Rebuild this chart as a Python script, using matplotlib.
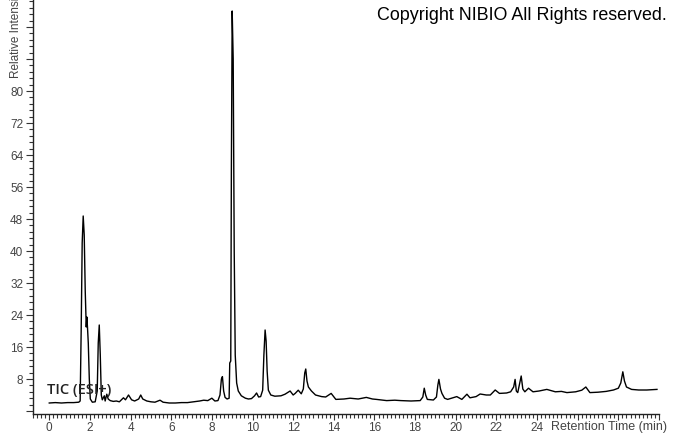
import matplotlib
matplotlib.use("Agg")
import matplotlib.pyplot as plt
from matplotlib.ticker import MultipleLocator, FuncFormatter

# Retention time (min) and relative intensity
time_min = [
    0.0, 0.3, 0.6, 0.9, 1.2, 1.45, 1.52, 1.57, 1.62, 1.67, 1.72, 1.77, 1.82, 1.85,
    1.88, 1.92, 1.97, 2.02, 2.12, 2.26, 2.36, 2.41, 2.46, 2.51, 2.56, 2.61, 2.71,
    2.75, 2.83, 2.9, 3.0, 3.15, 3.3, 3.45, 3.55, 3.65, 3.75, 3.9, 4.05, 4.2, 4.4,
    4.5, 4.6, 4.8, 5.0, 5.2, 5.45, 5.6, 5.9, 6.2, 6.5, 6.8, 7.1, 7.4, 7.6, 7.8,
    8.0, 8.15, 8.3, 8.4, 8.47, 8.52, 8.58, 8.65, 8.75, 8.85, 8.88, 8.93, 8.96,
    9.0, 9.05, 9.1, 9.15, 9.22, 9.3, 9.45, 9.65, 9.8, 9.95, 10.1, 10.2, 10.3,
    10.4, 10.5, 10.56, 10.62, 10.67, 10.72, 10.78, 10.9, 11.1, 11.4, 11.6, 11.85,
    12.0, 12.1, 12.25, 12.4, 12.5, 12.57, 12.62, 12.68, 12.75, 12.9, 13.1, 13.4,
    13.6, 13.87, 14.1, 14.5, 14.8, 15.2, 15.6, 15.9, 16.1, 16.6, 17.0, 17.3,
    17.8, 18.25, 18.38, 18.45, 18.52, 18.6, 18.9, 19.05, 19.12, 19.17, 19.25,
    19.32, 19.45, 19.6, 20.05, 20.3, 20.55, 20.7, 21.0, 21.2, 21.5, 21.7, 21.94,
    22.15, 22.5, 22.7, 22.85, 22.92, 22.98, 23.05, 23.15, 23.22, 23.3, 23.4,
    23.58, 23.8, 24.1, 24.48, 24.9, 25.2, 25.47, 25.9, 26.2, 26.4, 26.6, 27.0,
    27.4, 27.76, 28.0, 28.12, 28.22, 28.3, 28.4, 28.65, 29.0, 29.4, 29.9,
]
intensity = [
    2.0, 2.1, 2.0, 2.1, 2.1, 2.2, 2.5, 20, 42, 48.75, 44, 30, 21, 23.5,
    21, 17, 8, 3, 2.2, 2.3, 5, 17, 21.5, 14, 4, 2.8, 3.8,
    2.5, 4.2, 3.0, 2.6, 2.4, 2.5, 2.3, 2.8, 3.3, 2.8, 4.0, 2.8, 2.5, 3.0,
    4.0, 3.0, 2.5, 2.3, 2.2, 2.7, 2.2, 2.0, 2.0, 2.1, 2.1, 2.3, 2.5, 2.7, 2.6,
    3.2, 2.5, 2.6, 4.0, 8.0, 8.6, 5.0, 3.4, 3.0, 3.2, 12, 12.5, 60,
    100, 88, 40, 14, 7, 5, 3.8, 3.2, 3.0, 3.1, 3.8, 4.5, 3.5,
    3.6, 5.2, 14, 20.25, 17.5, 10, 5.2, 4.0, 3.7, 3.8, 4.2, 5.0,
    4.0, 4.4, 5.2, 4.3, 5.5, 9.5, 10.5, 7.5, 6.0, 5.0, 4.0, 3.6,
    3.5, 4.4, 2.9, 3.0, 3.2, 3.0, 3.4, 3.0, 2.9, 2.6, 2.7, 2.6,
    2.5, 2.6, 3.5, 5.7, 4.0, 2.9, 2.75, 3.5, 6.5, 7.9, 5.5,
    4.4, 3.2, 2.9, 3.6, 2.9, 4.2, 3.3, 3.6, 4.25, 4.0, 4.0, 5.25,
    4.4, 4.5, 4.8, 6.0, 7.9, 5.0, 4.6, 7.0, 8.75, 5.5, 4.8,
    5.7, 4.8, 5.0, 5.4, 4.8, 4.9, 4.6, 4.8, 5.2, 6.0, 4.6, 4.7,
    4.9, 5.25, 5.7, 7.0, 9.8, 7.5, 6.0, 5.4, 5.25, 5.25, 5.4,
]

x_major = list(range(0, 25, 2))
y_labelled = [8, 16, 24, 32, 40, 48, 56, 64, 72, 80]

W, H = 673, 433
fig = plt.figure(figsize=(W / 100, H / 100), dpi=100)
fig.patch.set_facecolor("white")

left_px, right_px, top_px, bottom_px = 33, 659, 0, 414
ax = fig.add_axes([left_px / W, (H - bottom_px) / H,
                   (right_px - left_px) / W, (bottom_px - top_px) / H])

ax.plot(time_min, intensity, color="black", lw=1.0)

ax.set_xlim(-0.8, 30.0)
ax.set_ylim(-0.75, 102.75)

for s in ("top", "right"):
    ax.spines[s].set_visible(False)
for s in ("left", "bottom"):
    ax.spines[s].set_color("#222222")
    ax.spines[s].set_linewidth(1.0)

ax.xaxis.set_major_locator(MultipleLocator(2))
ax.xaxis.set_minor_locator(MultipleLocator(0.2))
ax.yaxis.set_major_locator(MultipleLocator(8))
ax.yaxis.set_minor_locator(MultipleLocator(1.6))

ax.xaxis.set_major_formatter(FuncFormatter(
    lambda v, p: f"{int(round(v))}" if int(round(v)) in x_major and abs(v - round(v)) < 1e-6 else ""))
ax.yaxis.set_major_formatter(FuncFormatter(
    lambda v, p: f"{int(round(v))}" if int(round(v)) in y_labelled else ""))

ax.tick_params(axis="both", which="major", length=5, width=0.8, color="#333333",
               labelsize=8.5, labelcolor="#444444", pad=2)
ax.tick_params(axis="x", which="major", length=4, pad=1.5)
ax.tick_params(axis="both", which="minor", length=3, width=0.8, color="#333333")
for lab in ax.get_xticklabels() + ax.get_yticklabels():
    lab.set_family("Liberation Sans")

fig.text(667 / W, (H - 427) / H, "Retention Time (min)", ha="right", va="center",
         fontsize=9, color="#444444", family="Liberation Sans")
fig.text(16 / W, (H - 78) / H, "Relative Intensity", rotation=90, ha="center",
         va="bottom", fontsize=8.5, color="#444444", family="Liberation Sans")
fig.text(667 / W, (H - 16) / H, "Copyright NIBIO All Rights reserved.", ha="right",
         va="center", fontsize=12.9, color="black", family="Liberation Sans")
fig.text(47 / W, (H - 390) / H, "TIC (ESI+)", ha="left", va="center",
         fontsize=10.5, color="#222222", family="Open Sans", weight="semibold")

fig.savefig("out.png", dpi=100)
